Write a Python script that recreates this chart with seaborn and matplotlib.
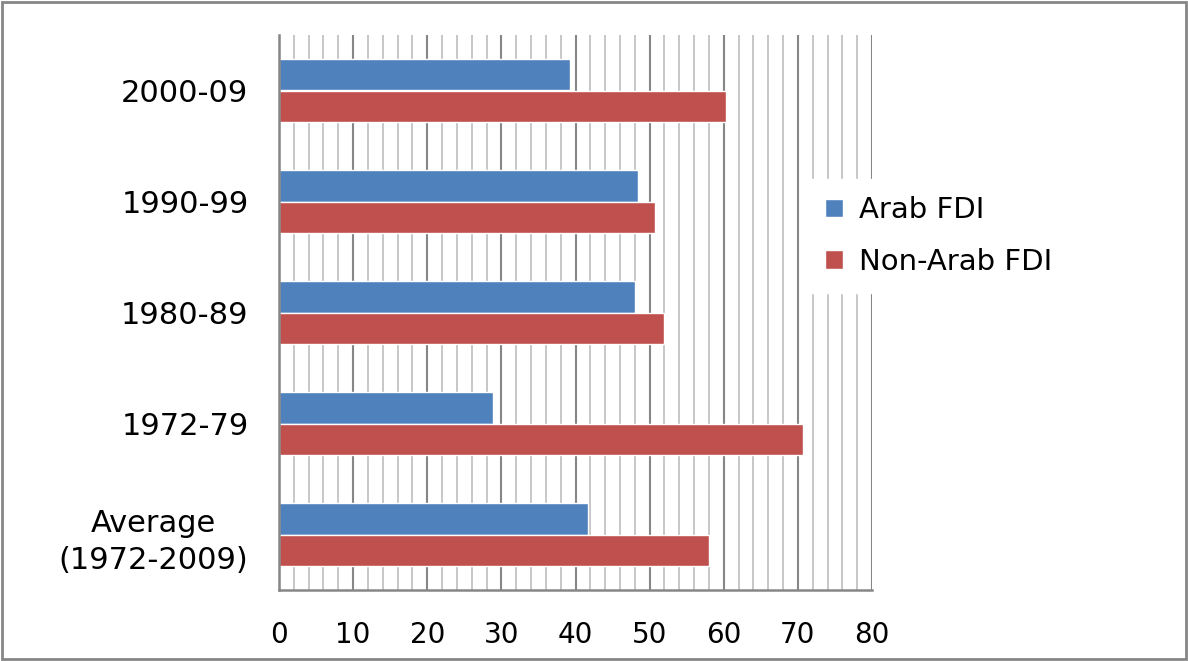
import numpy as np
import pandas as pd
import matplotlib
matplotlib.use("Agg")
import matplotlib.pyplot as plt
import matplotlib.ticker as ticker
from matplotlib.patches import Rectangle
import seaborn as sns

# data (percent share)
periods = ["2000-09", "1990-99", "1980-89", "1972-79", "Average\n(1972-2009)"]
arab_fdi = [39.3, 48.4, 48.0, 28.9, 41.7]
non_arab_fdi = [60.3, 50.7, 52.0, 70.7, 58.0]
series = ["Arab FDI", "Non-Arab FDI"]
colors = ["#4F81BD", "#C0504D"]

df = pd.DataFrame({"period": periods * 2,
                   "value": arab_fdi + non_arab_fdi,
                   "series": [series[0]] * len(periods) + [series[1]] * len(periods)})

sns.set_style("white")
plt.rcParams["font.family"] = ["DejaVu Sans"]
plt.rcParams["text.color"] = "black"
plt.rcParams["xtick.labelcolor"] = "black"
plt.rcParams["ytick.labelcolor"] = "black"

fig = plt.figure(figsize=(11.88, 6.61), dpi=100)
ax = fig.add_axes([279 / 1188, 1 - 590 / 661, (872 - 279) / 1188, (590 - 35) / 661])

sns.barplot(data=df, y="period", x="value", hue="series", hue_order=series,
            palette=colors, orient="h", width=0.56, gap=0,
            edgecolor="white", linewidth=1, saturation=1, ax=ax, legend=True)

ax.set_xlim(0, 80)
ax.set_ylim(len(periods) - 0.5, -0.5)
ax.set_xlabel("")
ax.set_ylabel("")

# grid: dark every 10, light every 2
ax.xaxis.set_major_locator(ticker.MultipleLocator(10))
ax.xaxis.set_minor_locator(ticker.MultipleLocator(2))
ax.set_axisbelow(True)
ax.grid(which="major", axis="x", color="#868686", linewidth=1.5)
ax.grid(which="minor", axis="x", color="#C3C3C3", linewidth=1.3)
ax.grid(False, axis="y")

for s in ["top", "right"]:
    ax.spines[s].set_visible(False)
for s in ["left", "bottom"]:
    ax.spines[s].set_color("#868686")
    ax.spines[s].set_linewidth(1.8)

ax.tick_params(axis="x", which="major", direction="out", length=8, width=1.8,
               color="#868686", labelsize=20, pad=14, labelcolor="black")
ax.tick_params(axis="x", which="minor", length=0)

# y ticks on the boundaries between groups
ax.yaxis.set_minor_locator(ticker.FixedLocator(np.arange(-0.5, len(periods), 1)))
ax.tick_params(axis="y", which="minor", direction="out", length=8, width=1.8, color="#868686")
ax.tick_params(axis="y", which="major", length=0, labelsize=22, pad=22, labelcolor="black")
for lbl in ax.get_yticklabels():
    lbl.set_multialignment("center")
    lbl.set_linespacing(1.35)

leg = ax.legend(loc="center left", bbox_to_anchor=(793 / 1188, 1 - 236 / 661),
                bbox_transform=fig.transFigure, frameon=True, fontsize=21,
                handlelength=0.6, handleheight=0.6, labelspacing=0.8,
                handletextpad=0.55, borderpad=0.6, fancybox=False)
leg.get_frame().set_facecolor("white")
leg.get_frame().set_edgecolor("white")
leg.get_frame().set_alpha(1)
for t in leg.get_texts():
    t.set_color("black")

# outer chart border
fig.patches.append(Rectangle((0.002, 0.003), 0.996, 0.994, transform=fig.transFigure,
                             fill=False, edgecolor="#868686", linewidth=2))

fig.savefig("out.png", dpi=100)
